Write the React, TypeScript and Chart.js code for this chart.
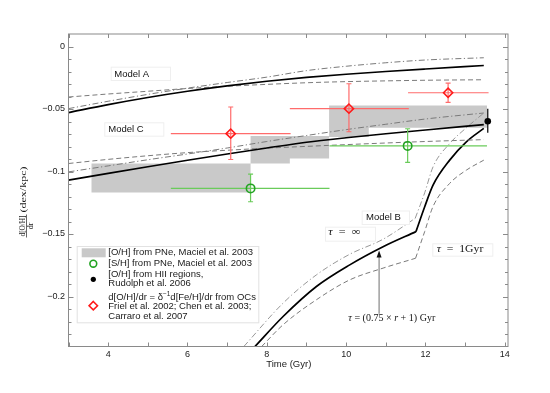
import React, { useEffect, useRef } from 'react';
import { Chart, registerables } from 'chart.js';
Chart.register(...registerables);

// ---------- data ----------
const xTickValues = [3, 4, 5, 6, 7, 8, 9, 10, 11, 12, 13, 14];
const xLabelValues = [4, 6, 8, 10, 12, 14];
const yLabelValues = [0, -0.05, -0.1, -0.15, -0.2];

const modelX = [3, 4, 5, 6, 7, 8, 9, 10, 11, 12, 13.47];
const modelASolid = [-0.0529, -0.0465, -0.0408, -0.0358, -0.0315, -0.0278, -0.0247, -0.0222, -0.0200, -0.0180, -0.0152];
const modelADashDot = [-0.0497, -0.0438, -0.0383, -0.0333, -0.0288, -0.0245, -0.0193, -0.0158, -0.0130, -0.0108, -0.0090];
const modelADashed = [-0.0404, -0.0380, -0.0358, -0.0336, -0.0318, -0.0303, -0.0290, -0.0281, -0.0275, -0.0270, -0.0266];

const modelCSolid = [-0.1069, -0.1015, -0.0962, -0.0910, -0.0860, -0.0812, -0.0766, -0.0730, -0.0698, -0.0668, -0.0625];
const modelCDashDot = [-0.1003, -0.0955, -0.0906, -0.0860, -0.0812, -0.0760, -0.0712, -0.0665, -0.0622, -0.0580, -0.0532];
const modelCDashed = [-0.0936, -0.0903, -0.0874, -0.0849, -0.0830, -0.0813, -0.0799, -0.0785, -0.0772, -0.0760, -0.0745];

// Model B (two branches each, joined at the kink)
const modelBSolidLowX = [7.70, 8.41, 9.25, 10.09, 10.93, 11.76];
const modelBSolidLowY = [-0.240, -0.216, -0.192, -0.1747, -0.1602, -0.1481];
const modelBSolidHighX = [11.76, 11.98, 12.19, 12.61, 13.03, 13.47];
const modelBSolidHighY = [-0.1481, -0.1282, -0.1109, -0.0909, -0.0763, -0.0655];

const modelBDashDotLowX = [7.42, 8.41, 9.25, 10.09, 10.93, 11.74];
const modelBDashDotLowY = [-0.240, -0.2053, -0.1827, -0.1662, -0.1542, -0.1375];
const modelBDashDotHighX = [11.74, 11.98, 12.19, 12.61, 13.03, 13.47];
const modelBDashDotHighY = [-0.1375, -0.1170, -0.0963, -0.0776, -0.0650, -0.0532];

const modelBDashedLowX = [7.87, 8.41, 9.25, 10.09, 10.93, 11.75];
const modelBDashedLowY = [-0.240, -0.2226, -0.2026, -0.1867, -0.1773, -0.1694];
const modelBDashedHighX = [11.75, 11.98, 12.19, 12.61, 13.03, 13.47];
const modelBDashedHighY = [-0.1694, -0.1480, -0.1280, -0.1095, -0.0989, -0.0909];

// [O/H] from PNe (grey boxes)
const boxX0 = [3.58, 7.59, 8.58, 9.57, 10.57];
const boxX1 = [7.59, 8.58, 9.57, 10.57, 13.55];
const boxTop = [-0.0936, -0.0716, -0.0716, -0.0471, -0.0471];
const boxBottom = [-0.1167, -0.0936, -0.0896, -0.0724, -0.0649];

// [S/H] from PNe (green)
const shX = [7.59, 11.55];
const shY = [-0.1135, -0.0795];
const shXLo = [5.58, 9.58];
const shXHi = [9.58, 13.55];
const shYLo = [-0.1242, -0.0927];
const shYHi = [-0.1021, -0.0658];

// HII regions (black)
const hiiX = [13.57];
const hiiY = [-0.0598];
const hiiYLo = [-0.0690];
const hiiYHi = [-0.0498];

// Open clusters (red)
const ocX = [7.09, 10.07, 12.57];
const ocY = [-0.0697, -0.0497, -0.0370];
const ocXLo = [5.58, 8.58, 11.56];
const ocXHi = [8.60, 11.58, 13.59];
const ocYLo = [-0.0904, -0.0682, -0.0447];
const ocYHi = [-0.0484, -0.0298, -0.0293];

// ---------- helpers ----------
const pts = (xs: number[], ys: number[]) => xs.map((x, i) => ({ x, y: ys[i] }));
const SANS = '"Liberation Sans", Arial, sans-serif';
const SERIF = '"Liberation Serif", "Times New Roman", serif';
const GREY_LINE = '#7a7a7a';
const RED = '#ff1a1a';
const RED_BAR = '#ff6b6b';
const GREEN = '#22a322';
const GREEN_BAR = '#6acb5a';

function boxOutline() {
  const upper: { x: number; y: number }[] = [];
  const lower: { x: number; y: number }[] = [];
  for (let i = 0; i < boxX0.length; i++) {
    upper.push({ x: boxX0[i], y: boxTop[i] }, { x: boxX1[i], y: boxTop[i] });
  }
  for (let i = boxX0.length - 1; i >= 0; i--) {
    lower.push({ x: boxX1[i], y: boxBottom[i] }, { x: boxX0[i], y: boxBottom[i] });
  }
  return [...upper, ...lower];
}

function lineDs(data: any[], color: string, width: number, dash: number[]) {
  return {
    type: 'scatter',
    data,
    showLine: true,
    borderColor: color,
    backgroundColor: color,
    borderWidth: width,
    borderDash: dash,
    pointRadius: 0,
    pointHoverRadius: 0,
    cubicInterpolationMode: 'monotone',
    fill: false,
  };
}

type Seg = [string, string];
function drawSegs(ctx: CanvasRenderingContext2D, segs: Seg[], x: number, y: number, targetW?: number) {
  let total = 0;
  for (const [t, f] of segs) { ctx.font = f; total += ctx.measureText(t).width; }
  const s = targetW ? targetW / total : 1;
  ctx.save();
  ctx.translate(x, y);
  ctx.scale(s, 1);
  let cx = 0;
  for (const [t, f] of segs) {
    ctx.font = f;
    ctx.fillText(t, cx, 0);
    cx += ctx.measureText(t).width;
  }
  ctx.restore();
}

function textBox(ctx: CanvasRenderingContext2D, x0: number, y0: number, x1: number, y1: number) {
  ctx.save();
  ctx.fillStyle = '#ffffff';
  ctx.fillRect(x0, y0, x1 - x0, y1 - y0);
  ctx.strokeStyle = '#efefef';
  ctx.lineWidth = 1;
  ctx.strokeRect(x0 + 0.5, y0 + 0.5, x1 - x0 - 1, y1 - y0 - 1);
  ctx.restore();
}

const errorBarPlugin = {
  id: 'errorBars',
  beforeDatasetDraw(chart: any, args: any) {
    const ds = chart.data.datasets[args.index];
    if (!ds.err) return;
    const { ctx, scales } = chart;
    const xs = scales.x, ys = scales.y;
    const e = ds.err;
    ctx.save();
    ctx.strokeStyle = e.color;
    ctx.lineWidth = 1.2;
    ds.data.forEach((p: any, i: number) => {
      const px = xs.getPixelForValue(p.x);
      const py = ys.getPixelForValue(p.y);
      if (e.xLo) {
        ctx.beginPath();
        ctx.moveTo(xs.getPixelForValue(e.xLo[i]), py);
        ctx.lineTo(xs.getPixelForValue(e.xHi[i]), py);
        ctx.stroke();
      }
      if (e.yLo) {
        const yl = ys.getPixelForValue(e.yLo[i]);
        const yh = ys.getPixelForValue(e.yHi[i]);
        ctx.beginPath();
        ctx.moveTo(px, yl);
        ctx.lineTo(px, yh);
        if (e.cap) {
          ctx.moveTo(px - e.cap, yl); ctx.lineTo(px + e.cap, yl);
          ctx.moveTo(px - e.cap, yh); ctx.lineTo(px + e.cap, yh);
        }
        ctx.stroke();
      }
    });
    ctx.restore();
  },
};

const decorPlugin = {
  id: 'decor',
  afterDatasetsDraw(chart: any) {
    const { ctx, scales } = chart;
    const xs = scales.x, ys = scales.y;
    const X = (v: number) => xs.getPixelForValue(v);
    const Y = (v: number) => ys.getPixelForValue(v);

    // arrow
    ctx.save();
    const ax = X(10.83);
    const ay0 = Y(-0.2138), ay1 = Y(-0.1632);
    ctx.strokeStyle = '#6e6e6e';
    ctx.lineWidth = 1;
    ctx.beginPath();
    ctx.moveTo(ax, ay0);
    ctx.lineTo(ax, ay1 + 4);
    ctx.stroke();
    ctx.fillStyle = '#111';
    ctx.beginPath();
    ctx.moveTo(ax, ay1);
    ctx.lineTo(ax - 2.5, ay1 + 7);
    ctx.lineTo(ax + 2.5, ay1 + 7);
    ctx.closePath();
    ctx.fill();
    ctx.restore();

    // model labels
    ctx.save();
    ctx.fillStyle = '#111';
    ctx.textBaseline = 'middle';
    textBox(ctx, 110.7, 66.7, 171, 81);
    ctx.font = '9.5px ' + SANS;
    ctx.fillText('Model A', 114.3, 74.2);
    textBox(ctx, 104.3, 122.3, 164.3, 136.7);
    ctx.font = '9.5px ' + SANS;
    ctx.fillText('Model C', 108.3, 129.5);
    textBox(ctx, 361.7, 210.5, 410, 225);
    ctx.font = '9.5px ' + SANS;
    ctx.fillText('Model B', 366, 217.5);

    const it = 'italic 10.5px ' + SERIF;
    const rm = '10.5px ' + SERIF;
    textBox(ctx, 325, 226.7, 376, 241.7);
    drawSegs(ctx, [['τ', it], ['  =  ', rm], ['∞', rm]], 328.3, 232.5, 32);
    textBox(ctx, 432.3, 243.3, 493.3, 256.7);
    drawSegs(ctx, [['τ', it], ['  =  ', rm], ['1Gyr', rm]], 436.7, 249.7, 46.6);
    drawSegs(ctx, [['τ', it], [' = ', rm], ['(0.75 × ', rm], ['r', it], [' + 1) Gyr', rm]], 348.3, 318.3, 87);
    ctx.restore();

    // legend
    ctx.save();
    ctx.fillStyle = '#ffffff';
    ctx.fillRect(76.7, 246, 182.6, 77.3);
    ctx.strokeStyle = '#e2e2e2';
    ctx.lineWidth = 1;
    ctx.strokeRect(77.2, 246.5, 181.6, 76.3);
    ctx.fillStyle = '#c9c9c9';
    ctx.fillRect(81.7, 248.3, 24, 9);
    ctx.strokeStyle = GREEN;
    ctx.lineWidth = 1.6;
    ctx.beginPath();
    ctx.arc(93.3, 263.7, 3.4, 0, Math.PI * 2);
    ctx.stroke();
    ctx.fillStyle = '#000';
    ctx.beginPath();
    ctx.arc(93.3, 279.3, 2.6, 0, Math.PI * 2);
    ctx.fill();
    ctx.strokeStyle = RED;
    ctx.lineWidth = 1.6;
    ctx.beginPath();
    ctx.moveTo(93.3, 301.5);
    ctx.lineTo(97.5, 305.7);
    ctx.lineTo(93.3, 309.9);
    ctx.lineTo(89.1, 305.7);
    ctx.closePath();
    ctx.stroke();

    ctx.fillStyle = '#1a1a1a';
    ctx.textBaseline = 'middle';
    const lf = '9.5px ' + SANS;
    ctx.font = lf;
    const tx = 108.3;
    ctx.fillText('[O/H] from PNe, Maciel et al. 2003', tx, 252.6);
    ctx.fillText('[S/H] from PNe, Maciel et al. 2003', tx, 263.7);
    ctx.fillText('[O/H] from HII regions,', tx, 274.3);
    ctx.fillText('Rudolph et al. 2006', tx, 283.7);
    // line with superscript
    let cx = tx;
    const part1 = 'd[O/H]/dr = δ';
    ctx.fillText(part1, cx, 297);
    cx += ctx.measureText(part1).width;
    ctx.font = '6.5px ' + SANS;
    ctx.fillText('−1', cx, 294);
    cx += ctx.measureText('−1').width;
    ctx.font = lf;
    ctx.fillText('d[Fe/H]/dr from OCs', cx, 297);
    ctx.fillText('Friel et al. 2002; Chen et al. 2003;', tx, 306.7);
    ctx.fillText('Carraro et al. 2007', tx, 315.9);
    ctx.restore();
  },
  afterDraw(chart: any) {
    const { ctx, chartArea, scales } = chart;
    const xs = scales.x, ys = scales.y;
    const { left, right, top, bottom } = chartArea;
    ctx.save();
    ctx.strokeStyle = '#8a8a8a';
    ctx.lineWidth = 1;
    ctx.strokeRect(left, top, right - left, bottom - top);
    ctx.beginPath();
    for (const v of xTickValues) {
      const px = Math.round(xs.getPixelForValue(v)) + 0.5;
      ctx.moveTo(px, bottom); ctx.lineTo(px, bottom - 4);
      ctx.moveTo(px, top); ctx.lineTo(px, top + 4);
    }
    for (let k = 0; k <= 23; k++) {
      const v = -k / 100;
      const major = k % 5 === 0;
      const len = major ? 5 : 3;
      const py = Math.round(ys.getPixelForValue(v)) + 0.5;
      ctx.moveTo(left, py); ctx.lineTo(left + len, py);
      ctx.moveTo(right, py); ctx.lineTo(right - len, py);
    }
    ctx.stroke();

    // x-axis title
    ctx.fillStyle = '#1a1a1a';
    ctx.font = '9.5px ' + SANS;
    ctx.textAlign = 'center';
    ctx.textBaseline = 'middle';
    ctx.fillText('Time (Gyr)', 288.8, 364.5);

    // y-axis title (fraction, rotated)
    ctx.translate(26.5, 226);
    ctx.rotate(-Math.PI / 2);
    ctx.textAlign = 'left';
    ctx.textBaseline = 'alphabetic';
    const f8 = '8px ' + SERIF;
    ctx.font = f8;
    const nw = ctx.measureText('d[O/H]').width;
    ctx.save();
    ctx.scale(21 / nw, 1);
    ctx.fillText('d[O/H]', -nw / 2, -1.5);
    ctx.restore();
    ctx.strokeStyle = '#222';
    ctx.lineWidth = 0.7;
    ctx.beginPath();
    ctx.moveTo(-11.5, 0); ctx.lineTo(11.5, 0);
    ctx.stroke();
    ctx.textAlign = 'center';
    ctx.fillText('dr', 0, 6.5);
    ctx.textAlign = 'left';
    ctx.font = '8.5px ' + SERIF;
    const uw = ctx.measureText('(dex/kpc)').width;
    ctx.save();
    ctx.translate(13.5, 0);
    ctx.scale(46 / uw, 1);
    ctx.fillText('(dex/kpc)', 0, -0.3);
    ctx.restore();
    ctx.restore();
  },
};

export default function App() {
  const ref = useRef<HTMLCanvasElement | null>(null);
  useEffect(() => {
    if (!ref.current) return;
    const datasets: any[] = [
      {
        type: 'scatter',
        data: pts(ocX, ocY),
        pointStyle: 'rectRot',
        pointRadius: 4.6,
        pointBorderWidth: 1.6,
        borderColor: RED,
        backgroundColor: 'rgba(0,0,0,0)',
        showLine: false,
        err: { color: RED_BAR, xLo: ocXLo, xHi: ocXHi, yLo: ocYLo, yHi: ocYHi, cap: 2.5 },
      },
      {
        type: 'scatter',
        data: pts(shX, shY),
        pointStyle: 'circle',
        pointRadius: 4.2,
        pointBorderWidth: 1.6,
        borderColor: GREEN,
        backgroundColor: 'rgba(0,0,0,0)',
        showLine: false,
        err: { color: GREEN_BAR, xLo: shXLo, xHi: shXHi, yLo: shYLo, yHi: shYHi, cap: 2.5 },
      },
      {
        type: 'scatter',
        data: pts(hiiX, hiiY),
        pointStyle: 'circle',
        pointRadius: 3.3,
        pointBorderWidth: 0,
        borderColor: '#000',
        backgroundColor: '#000',
        showLine: false,
        err: { color: '#000', yLo: hiiYLo, yHi: hiiYHi, cap: 0 },
      },
      lineDs(pts(modelX, modelASolid), '#000', 1.7, []),
      lineDs(pts(modelX, modelADashDot), GREY_LINE, 1, [6, 2.5, 1.2, 2.5]),
      lineDs(pts(modelX, modelADashed), GREY_LINE, 1, [5, 3]),
      lineDs(pts(modelX, modelCSolid), '#000', 1.7, []),
      lineDs(pts(modelX, modelCDashDot), GREY_LINE, 1, [6, 2.5, 1.2, 2.5]),
      lineDs(pts(modelX, modelCDashed), GREY_LINE, 1, [5, 3]),
      lineDs(pts(modelBSolidLowX, modelBSolidLowY), '#000', 1.7, []),
      lineDs(pts(modelBSolidHighX, modelBSolidHighY), '#000', 1.7, []),
      lineDs(pts(modelBDashDotLowX, modelBDashDotLowY), '#8c8c8c', 0.9, [6, 2.5, 1.2, 2.5]),
      lineDs(pts(modelBDashDotHighX, modelBDashDotHighY), '#8c8c8c', 0.9, [6, 2.5, 1.2, 2.5]),
      lineDs(pts(modelBDashedLowX, modelBDashedLowY), GREY_LINE, 1, [5, 3]),
      lineDs(pts(modelBDashedHighX, modelBDashedHighY), GREY_LINE, 1, [5, 3]),
      {
        type: 'scatter',
        data: boxOutline(),
        showLine: true,
        borderWidth: 0,
        borderColor: 'rgba(0,0,0,0)',
        backgroundColor: '#c9c9c9',
        pointRadius: 0,
        tension: 0,
        fill: 'shape',
      },
    ];

    const chart = new Chart(ref.current, {
      type: 'scatter',
      data: { datasets },
      plugins: [errorBarPlugin, decorPlugin],
      options: {
        animation: false,
        responsive: false,
        devicePixelRatio: 1,
        events: [],
        layout: { padding: { top: 34, right: 42, left: 0, bottom: 0 } },
        plugins: { legend: { display: false }, tooltip: { enabled: false }, title: { display: false } },
        scales: {
          x: {
            type: 'linear',
            min: 3,
            max: 14.08,
            grid: { display: false, drawTicks: false },
            border: { display: false },
            afterFit: (s: any) => { s.height = 46.5; },
            afterBuildTicks: (s: any) => { s.ticks = xLabelValues.map((v) => ({ value: v })); },
            ticks: {
              autoSkip: false,
              maxRotation: 0,
              padding: 3,
              color: '#222',
              font: { family: SANS, size: 9 },
              callback: (v: any) => String(v),
            },
          },
          y: {
            type: 'linear',
            min: -0.24,
            max: 0.01,
            grid: { display: false, drawTicks: false },
            border: { display: false },
            afterFit: (s: any) => { s.width = 68.5; },
            afterBuildTicks: (s: any) => { s.ticks = yLabelValues.map((v) => ({ value: v })); },
            ticks: {
              autoSkip: false,
              padding: 3.5,
              color: '#222',
              font: { family: SANS, size: 9 },
              callback: (v: any) => {
                const n = Number(v);
                if (Math.abs(n) < 1e-9) return '0';
                return '\u2212' + String(Math.round(Math.abs(n) * 100) / 100);
              },
            },
          },
        },
      } as any,
    } as any);
    return () => chart.destroy();
  }, []);

  return (
    <div style={{ position: 'absolute', left: 0, top: 0, width: 550, height: 393, background: '#fff' }}>
      <canvas ref={ref} width={550} height={393} style={{ width: 550, height: 393, display: 'block' }} />
    </div>
  );
}
